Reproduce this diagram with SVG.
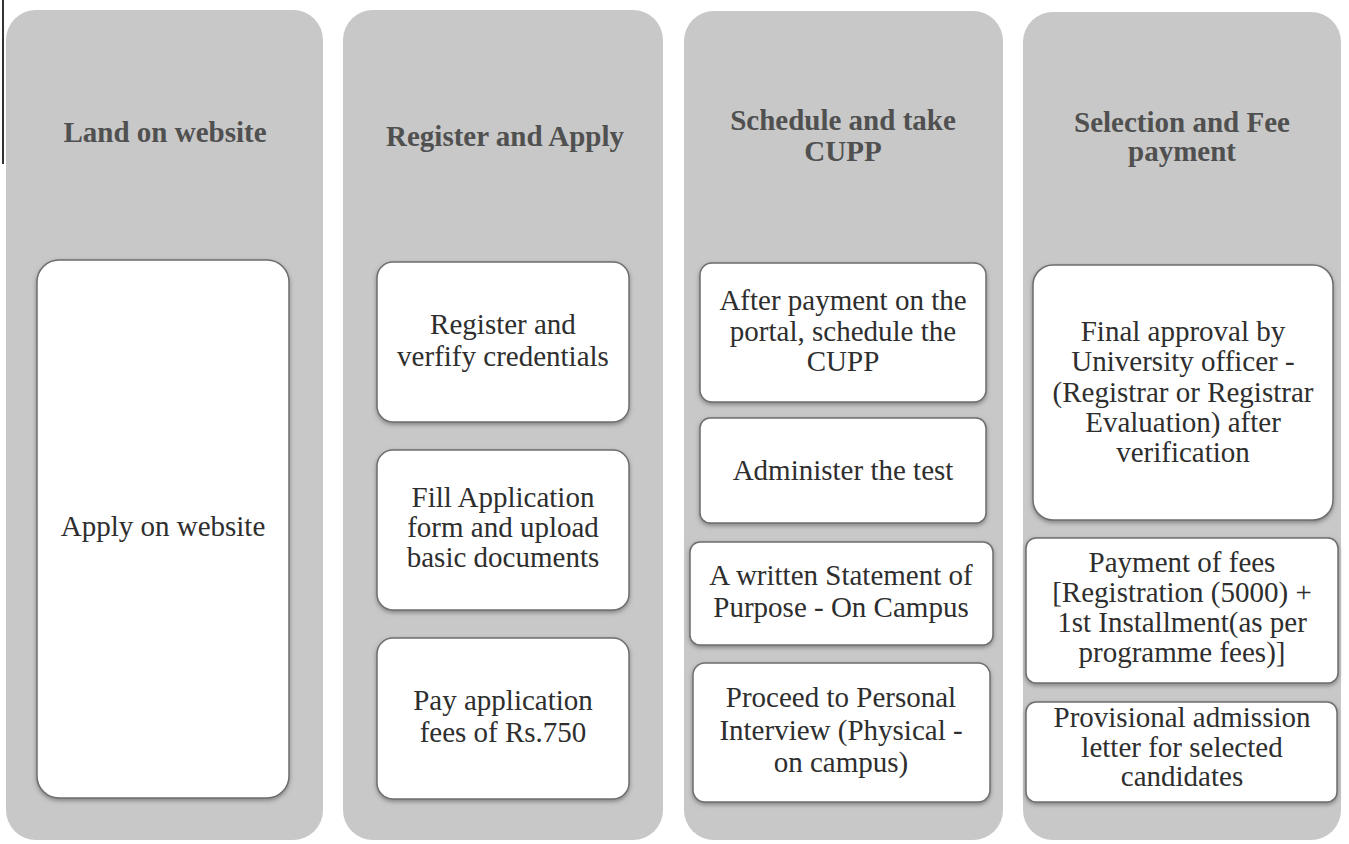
<svg xmlns="http://www.w3.org/2000/svg" width="1349" height="844" viewBox="0 0 1349 844">
<defs>
<style>
.col{fill:#c8c8c8;}
.box{fill:#ffffff;stroke:#6e6e6e;stroke-width:1.5;filter:url(#sh);}
.hd{font-family:"Liberation Serif","Times New Roman","DejaVu Serif",serif;font-weight:bold;font-size:29px;fill:#505050;text-anchor:middle;}
.tx{font-family:"Liberation Serif","Times New Roman","DejaVu Serif",serif;font-size:29px;fill:#2e2e2e;text-anchor:middle;}
</style>
<filter id="sh" x="-10%" y="-10%" width="120%" height="125%">
<feDropShadow dx="0" dy="2" stdDeviation="2" flood-color="#555" flood-opacity="0.6"/>
</filter>
</defs>
<rect width="1349" height="844" fill="#ffffff"/>
<line x1="3" y1="0" x2="3" y2="164" stroke="#333" stroke-width="2"/>
<g id="col1">
<rect class="col" x="6" y="10" width="317" height="830" rx="30"/>
<text class="hd" x="165" y="142">Land on website</text>
</g>
<g id="col2">
<rect class="col" x="343" y="10" width="320" height="830" rx="30"/>
<text class="hd" x="505" y="146">Register and Apply</text>
</g>
<g id="col3">
<rect class="col" x="684" y="11" width="319" height="829" rx="30"/>
<text class="hd" x="843" y="130">Schedule and take</text>
<text class="hd" x="843" y="161">CUPP</text>
</g>
<g id="col4">
<rect class="col" x="1023" y="12" width="318" height="828" rx="30"/>
<text class="hd" x="1182" y="132">Selection and Fee</text>
<text class="hd" x="1182" y="161">payment</text>
</g>
<g id="n1">
<rect class="box" x="37" y="260" width="252" height="538" rx="22"/>
<text class="tx" x="163" y="536">Apply on website</text>
</g>
<g id="n2">
<rect class="box" x="377" y="262" width="252" height="160" rx="16"/>
<text class="tx" x="503" y="334">Register and</text>
<text class="tx" x="503" y="366">verfify credentials</text>
</g>
<g id="n3">
<rect class="box" x="377" y="450" width="252" height="160" rx="16"/>
<text class="tx" x="503" y="507">Fill Application</text>
<text class="tx" x="503" y="537">form and upload</text>
<text class="tx" x="503" y="567">basic documents</text>
</g>
<g id="n4">
<rect class="box" x="377" y="638" width="252" height="161" rx="16"/>
<text class="tx" x="503" y="710">Pay application</text>
<text class="tx" x="503" y="742">fees of Rs.750</text>
</g>
<g id="n5">
<rect class="box" x="700" y="263" width="286" height="139" rx="12"/>
<text class="tx" x="843" y="310">After payment on the</text>
<text class="tx" x="843" y="341">portal, schedule the</text>
<text class="tx" x="843" y="371">CUPP</text>
</g>
<g id="n6">
<rect class="box" x="700" y="418" width="286" height="105" rx="10"/>
<text class="tx" x="843" y="480">Administer the test</text>
</g>
<g id="n7">
<rect class="box" x="690" y="542" width="303" height="103" rx="10"/>
<text class="tx" x="841" y="585">A written Statement of</text>
<text class="tx" x="841" y="617">Purpose - On Campus</text>
</g>
<g id="n8">
<rect class="box" x="693" y="663" width="297" height="139" rx="12"/>
<text class="tx" x="841" y="707">Proceed to Personal</text>
<text class="tx" x="841" y="740">Interview (Physical -</text>
<text class="tx" x="841" y="772">on campus)</text>
</g>
<g id="n9">
<rect class="box" x="1033" y="265" width="300" height="255" rx="20"/>
<text class="tx" x="1183" y="341">Final approval by</text>
<text class="tx" x="1183" y="371">University officer -</text>
<text class="tx" x="1183" y="402">(Registrar or Registrar</text>
<text class="tx" x="1183" y="432">Evaluation) after</text>
<text class="tx" x="1183" y="462">verification</text>
</g>
<g id="n10">
<rect class="box" x="1026" y="538" width="312" height="145" rx="10"/>
<text class="tx" x="1182" y="572">Payment of fees</text>
<text class="tx" x="1182" y="602">[Registration (5000) +</text>
<text class="tx" x="1182" y="632">1st Installment(as per</text>
<text class="tx" x="1182" y="662">programme fees)]</text>
</g>
<g id="n11">
<rect class="box" x="1026" y="702" width="311" height="100" rx="10"/>
<text class="tx" x="1182" y="727">Provisional admission</text>
<text class="tx" x="1182" y="757">letter for selected</text>
<text class="tx" x="1182" y="786">candidates</text>
</g>
<g id="connectors"></g>
</svg>
